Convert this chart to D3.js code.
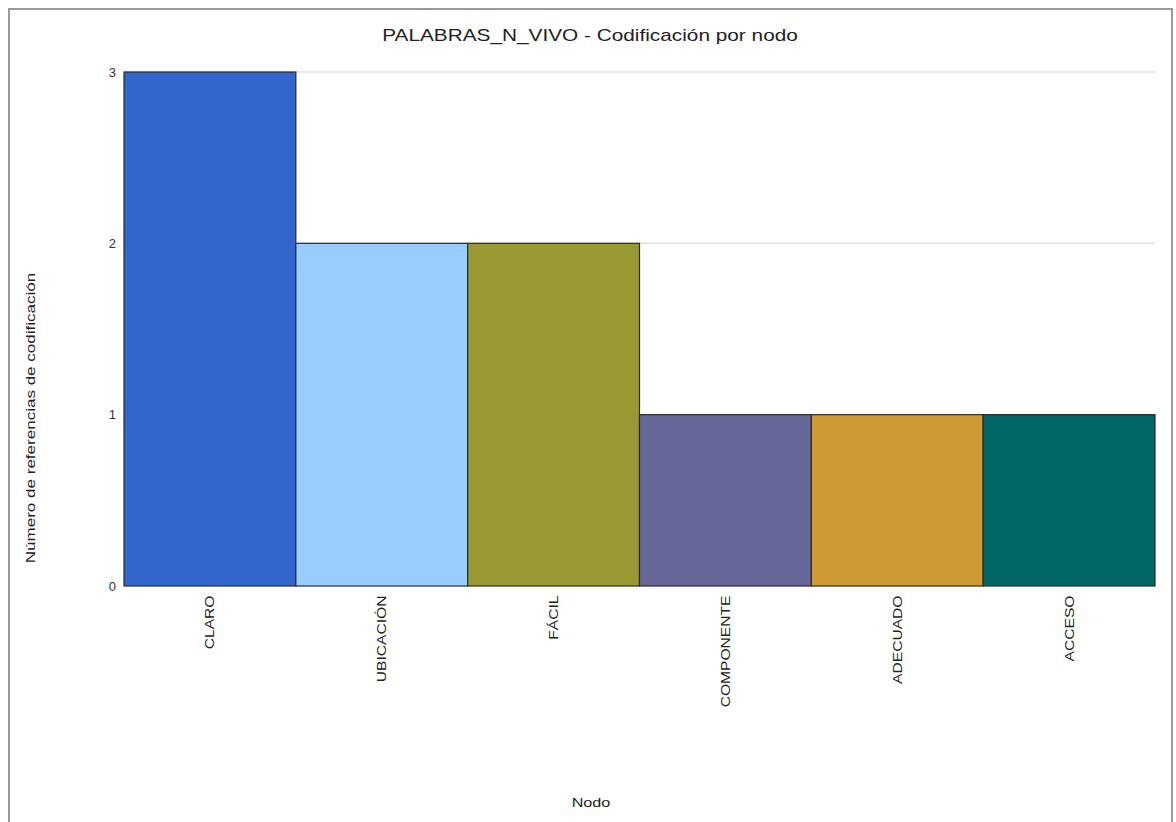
<!DOCTYPE html>
<html><head><meta charset="utf-8">
<script src="https://cdn.jsdelivr.net/npm/d3@7"></script>
<style>body{margin:0;background:#fff;}svg{display:block;font-family:"Liberation Sans",Arial,sans-serif;}</style>
</head><body>
<script>
const categories = ["CLARO","UBICACIÓN","FÁCIL","COMPONENTE","ADECUADO","ACCESO"];
const values = [3,2,2,1,1,1];
const colors = ["#3366cc","#99ccff","#999933","#666699","#cc9933","#006666"];
const yTicks = [0,1,2,3];
const title = "PALABRAS_N_VIVO - Codificación por nodo";
const xTitle = "Nodo";
const yTitle = "Número de referencias de codificación";

const W=1176,H=822;
const svg=d3.select("body").append("svg").attr("width",W).attr("height",H);
svg.append("rect").attr("x",9).attr("y",9).attr("width",1163).attr("height",830)
  .attr("fill","#fff").attr("stroke","#999").attr("stroke-width",2);

const m={l:124,r:1155,t:72,b:586};
const x=d3.scaleBand().domain(categories).range([m.l,m.r]).padding(0);
const y=d3.scaleLinear().domain([0,3]).range([m.b,m.t]);

svg.append("g").selectAll("line").data(yTicks.filter(d=>d>0)).join("line")
  .attr("x1",m.l).attr("x2",m.r).attr("y1",d=>y(d)).attr("y2",d=>y(d))
  .attr("stroke","#e2e2e2").attr("stroke-width",1.5);

svg.append("g").selectAll("rect").data(values).join("rect")
  .attr("x",(d,i)=>x(categories[i])).attr("width",x.bandwidth())
  .attr("y",d=>y(d)).attr("height",d=>y(0)-y(d))
  .attr("fill",(d,i)=>colors[i]).attr("stroke","#2a2a2a").attr("stroke-width",1.2);

const ya=svg.append("g").attr("transform",`translate(${m.l},0)`)
  .call(d3.axisLeft(y).tickValues(yTicks).tickFormat(d3.format("d")).tickSize(0).tickPadding(8));
ya.select(".domain").remove();
ya.selectAll("text").attr("font-size",13).attr("fill","#333").attr("font-family","Liberation Sans, Arial, sans-serif");

const xa=svg.append("g").attr("transform",`translate(0,${m.b})`)
  .call(d3.axisBottom(x).tickSize(0));
xa.select(".domain").remove();
xa.selectAll("text").attr("font-size",13).attr("fill","#222")
  .attr("font-family","Liberation Sans, Arial, sans-serif")
  .attr("text-anchor","end").attr("transform","rotate(-90) scale(1.2,1)")
  .attr("dx",-8).attr("dy","0.35em").attr("y",0).attr("x",0);

svg.append("text").attr("transform","translate(590,41) scale(1.3,1)").attr("text-anchor","middle")
  .attr("font-size",16).attr("fill","#222").text(title);
svg.append("text").attr("transform","translate(591,807) scale(1.35,1)").attr("text-anchor","middle")
  .attr("font-size",12).attr("fill","#222").text(xTitle);
svg.append("text").attr("transform","translate(35,418) rotate(-90) scale(1.42,1)").attr("text-anchor","middle")
  .attr("font-size",12).attr("fill","#222").text(yTitle);
</script>
</body></html>
